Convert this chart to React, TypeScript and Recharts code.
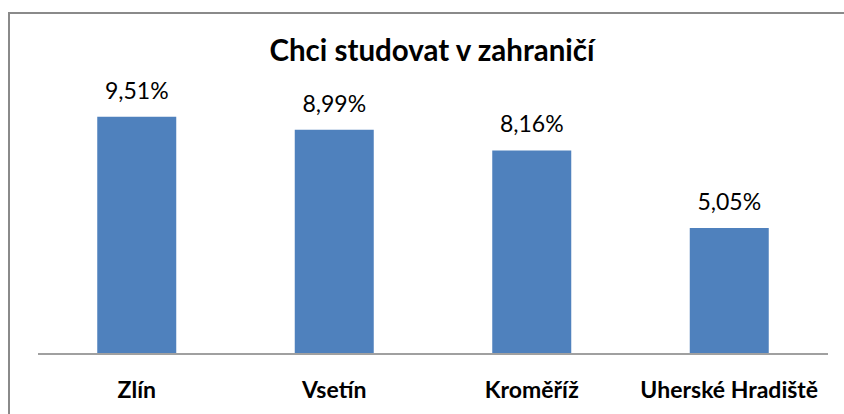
import { Bar, BarChart, LabelList, XAxis, YAxis } from 'recharts';

const regions = ['Zlín', 'Vsetín', 'Kroměříž', 'Uherské Hradiště'];
const shares = [9.51, 8.99, 8.16, 5.05];

const data = regions.map((region, i) => ({ region, share: shares[i] }));

const FONT = 'Lato, "Open Sans", sans-serif';

function CategoryTick({ x, y, payload }: any) {
  return (
    <text x={x} y={y + 36} textAnchor="middle" fontFamily={FONT} fontWeight={700} fontSize={23} fill="#000">
      {payload.value}
    </text>
  );
}

function ValueLabel({ x, y, width, value }: any) {
  return (
    <text x={x + width / 2} y={y - 18} textAnchor="middle" fontFamily={FONT} fontSize={23} fill="#000">
      {value.toFixed(2).replace('.', ',')}%
    </text>
  );
}

export default function App() {
  return (
    <div style={{ position: 'absolute', left: 0, top: 0, width: 844, height: 414, overflow: 'hidden', background: '#fff' }}>
      <div
        style={{
          position: 'absolute',
          left: 8,
          top: 12,
          width: 900,
          height: 500,
          border: '2px solid #8a8a8a',
        }}
      />
      <div
        style={{
          position: 'absolute',
          left: 0,
          width: 864,
          top: 32,
          textAlign: 'center',
          fontFamily: FONT,
          fontWeight: 700,
          fontSize: 29.5,
          color: '#000',
        }}
      >
        Chci studovat v zahraničí
      </div>
      <div style={{ position: 'absolute', left: 0, top: 0 }}>
        <BarChart
          width={844}
          height={414}
          data={data}
          margin={{ top: 104.5, right: 16, left: 38, bottom: 0 }}
          barCategoryGap="30%"
        >
          <XAxis
            dataKey="region"
            height={60}
            tickLine={false}
            axisLine={{ stroke: '#a0a0a0', strokeWidth: 2 }}
            tick={<CategoryTick />}
            interval={0}
          />
          <YAxis hide domain={[0, 10]} />
          <Bar dataKey="share" fill="#4F81BD" isAnimationActive={false}>
            <LabelList dataKey="share" content={<ValueLabel />} />
          </Bar>
        </BarChart>
      </div>
    </div>
  );
}
